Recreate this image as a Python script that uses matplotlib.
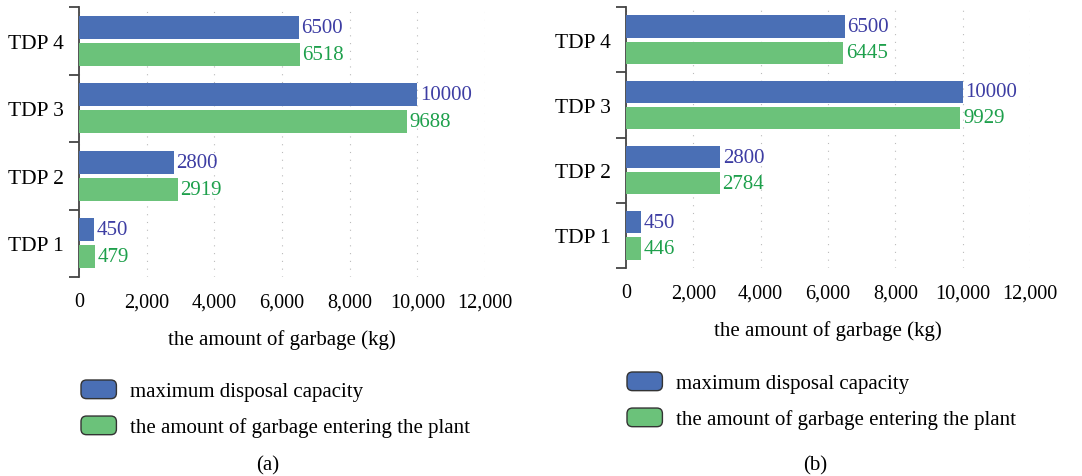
import matplotlib.pyplot as plt
import numpy as np
from matplotlib.patches import Patch, FancyBboxPatch
from matplotlib.legend_handler import HandlerPatch

plants = ["TDP 1", "TDP 2", "TDP 3", "TDP 4"]
capacity_a = [450, 2800, 10000, 6500]
entering_a = [479, 2919, 9688, 6518]
capacity_b = [450, 2800, 10000, 6500]
entering_b = [446, 2784, 9929, 6445]
xticks = [0, 2000, 4000, 6000, 8000, 10000, 12000]

BLUE = "#4a6fb5"
GREEN = "#6bc27a"
BLUE_TXT = "#3d3da3"
GREEN_TXT = "#1ea04c"

plt.rcParams['font.family'] = ['Liberation Serif', 'DejaVu Serif']


class RoundBox(HandlerPatch):
    def create_artists(self, legend, orig_handle, xdescent, ydescent,
                       width, height, fontsize, trans):
        p = FancyBboxPatch((-xdescent, -ydescent), width, height,
                           boxstyle="round,pad=0,rounding_size=4",
                           facecolor=orig_handle.get_facecolor(),
                           edgecolor="#333333", linewidth=1.0,
                           transform=trans)
        return [p]


def draw_panel(ax, cap, ent):
    y = np.arange(len(plants))
    h = 0.34
    ax.barh(y + 0.2, cap, height=h, color=BLUE, zorder=3)
    ax.barh(y - 0.2, ent, height=h, color=GREEN, zorder=3)
    for yi, v in zip(y, cap):
        ax.text(v + 80, yi + 0.2, str(v), va='center', ha='left',
                color=BLUE_TXT, fontsize=15)
    for yi, v in zip(y, ent):
        ax.text(v + 80, yi - 0.2, str(v), va='center', ha='left',
                color=GREEN_TXT, fontsize=15)

    ax.set_xlim(0, 12000)
    ax.set_ylim(-0.5, 3.5)
    ax.set_xticks(xticks)
    ax.set_xticklabels([f"{t:,}" for t in xticks], fontsize=14.5)
    ax.tick_params(axis='x', length=0, pad=11)
    ax.set_yticks(np.arange(-0.5, 4, 1.0))
    ax.set_yticklabels([])
    ax.tick_params(axis='y', which='major', length=7, width=1.3,
                   color="#444444", direction='out')
    ax.set_yticks(y, minor=True)
    ax.set_yticklabels(plants, minor=True, fontsize=15.5)
    ax.tick_params(axis='y', which='minor', length=0, pad=11)
    for s in ['top', 'right', 'bottom']:
        ax.spines[s].set_visible(False)
    ax.spines['left'].set_color("#444444")
    ax.spines['left'].set_linewidth(1.3)
    ax.grid(axis='x', linestyle=(0, (1, 6)), color="#bbbbbb", linewidth=0.8, zorder=0)
    ax.set_xlabel("the amount of garbage (kg)", fontsize=15, labelpad=13)


fig = plt.figure(figsize=(10.82, 4.77), dpi=100)
W, H = 1082, 477
ax1 = fig.add_axes([79 / W, 1 - 278 / H, 406 / W, 270 / H])
ax2 = fig.add_axes([626 / W, 1 - 269 / H, 404 / W, 261 / H])

draw_panel(ax1, capacity_a, entering_a)
draw_panel(ax2, capacity_b, entering_b)

handles = [Patch(facecolor=BLUE, label="maximum disposal capacity"),
           Patch(facecolor=GREEN, label="the amount of garbage entering the plant")]
for anchor in [(81 / W, 1 - 381 / H), (627 / W, 1 - 373 / H)]:
    fig.legend(handles=handles, loc='upper left', bbox_to_anchor=anchor,
               frameon=False, fontsize=15, handlelength=1.7, handleheight=1.0,
               handletextpad=0.65, labelspacing=0.7, borderpad=0,
               borderaxespad=0, handler_map={Patch: RoundBox()})

fig.text(268 / W, 1 - 466 / H, "(a)", ha='center', va='center', fontsize=15)
fig.text(815 / W, 1 - 466 / H, "(b)", ha='center', va='center', fontsize=15)

fig.savefig("out.png", dpi=100)
